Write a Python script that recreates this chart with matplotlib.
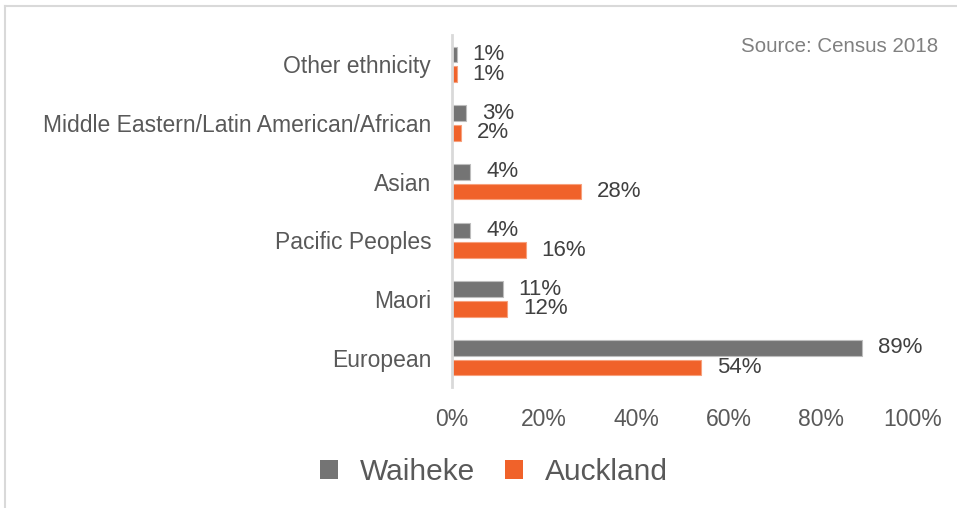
import numpy as np
import matplotlib.pyplot as plt
from matplotlib.patches import Patch
from matplotlib.lines import Line2D

plt.rcParams['font.family'] = ['Liberation Sans', 'DejaVu Sans']

# data (bottom to top)
categories = ['European', 'Maori', 'Pacific Peoples', 'Asian',
              'Middle Eastern/Latin American/African', 'Other ethnicity']
waiheke = [89, 11, 4, 4, 3, 1]
auckland = [54, 12, 16, 28, 2, 1]
xticks = [0, 20, 40, 60, 80, 100]

gray = '#747474'
orange = '#F0622A'

fig = plt.figure(figsize=(9.57, 5.08), dpi=100)
ax = fig.add_axes([452 / 957, 1 - 387 / 508, 461 / 957, 352 / 508])

y = np.arange(len(categories))
h = 0.265
off = 0.167
ax.barh(y + off, waiheke, height=h, color=gray, edgecolor='#bdbdbd', linewidth=0.8)
ax.barh(y - off, auckland, height=h, color=orange, edgecolor='#f7a07c', linewidth=0.8)

for yi, w, a in zip(y, waiheke, auckland):
    ax.annotate(f'{w}%', (w, yi + off), xytext=(11.5, 0), textcoords='offset points',
                va='center', ha='left', fontsize=16, color='#404040')
    ax.annotate(f'{a}%', (a, yi - off), xytext=(11.5, 0), textcoords='offset points',
                va='center', ha='left', fontsize=16, color='#404040')

ax.set_xlim(0, 100)
ax.set_ylim(-0.5, len(categories) - 0.5)
ax.set_xticks(xticks)
ax.set_xticklabels([f'{t}%' for t in xticks])
ax.set_yticks(y)
ax.set_yticklabels(categories)
ax.tick_params(axis='both', length=0, labelsize=16.5, colors='#595959')
ax.tick_params(axis='x', pad=15)
ax.tick_params(axis='y', pad=15, labelsize=16.5)
for s in ['top', 'right', 'bottom']:
    ax.spines[s].set_visible(False)
ax.spines['left'].set_color('#d9d9d9')
ax.spines['left'].set_linewidth(2)

fig.text(938 / 957, 1 - 46 / 508, 'Source: Census 2018', ha='right', va='center',
         fontsize=14.8, color='#808080')

handles = [Patch(facecolor=gray, edgecolor='none'), Patch(facecolor=orange, edgecolor='none')]
fig.legend(handles, ['Waiheke', 'Auckland'], loc='center',
           bbox_to_anchor=(494 / 957, 1 - 472 / 508), ncol=2, frameon=False,
           fontsize=21.5, labelcolor='#595959', handlelength=0.6, handleheight=0.6,
           handletextpad=0.75, columnspacing=1.0)

# light frame on left and top
fig.add_artist(Line2D([5 / 957, 5 / 957], [0, 1 - 6 / 508], color='#d9d9d9', linewidth=1.5,
                      transform=fig.transFigure))
fig.add_artist(Line2D([5 / 957, 1], [1 - 6 / 508, 1 - 6 / 508], color='#d9d9d9', linewidth=1.5,
                      transform=fig.transFigure))

fig.savefig('out.png', dpi=100, facecolor='white')
